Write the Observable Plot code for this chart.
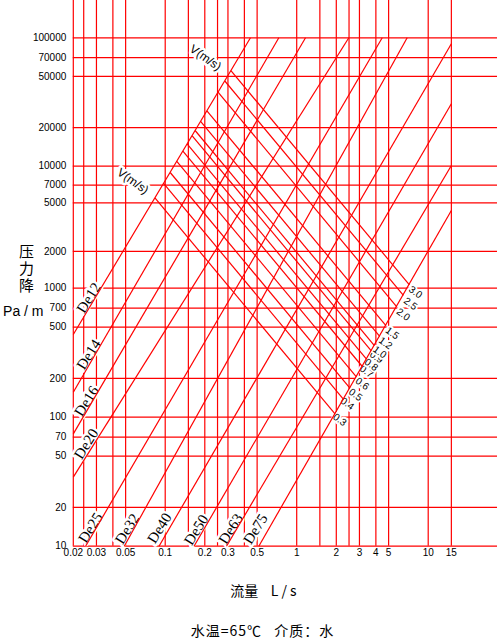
<!DOCTYPE html>
<html>
<head>
<meta charset="utf-8">
<script src="https://cdn.jsdelivr.net/npm/d3@7"></script>
<script src="https://cdn.jsdelivr.net/npm/@observablehq/plot@0.6"></script>
<style>
  html, body { margin: 0; padding: 0; background: #fff; }
  #chart svg { display: block; }
  #caption { font-family: "Noto Sans CJK SC", sans-serif; font-size: 14px; letter-spacing: 1px;
             text-align: center; padding-left: 25px; margin-top: 17px; line-height: 16px; height: 16px; color: #000; }
</style>
</head>
<body>
<div id="chart"></div>
<div id="caption">水温=65℃&nbsp;&nbsp;&nbsp;介质：水</div>
<script>
// Grid values (flow L/s on x, pressure drop Pa/m on y)
const xGrid = [0.02, 0.024, 0.03, 0.04, 0.05, 0.1, 0.15, 0.2, 0.25, 0.3, 0.4, 0.5, 1, 1.5, 2, 2.5, 3, 4, 5, 10, 15];
const yGrid = [10, 20, 50, 70, 100, 200, 500, 700, 1000, 2000, 5000, 7000, 10000, 20000, 50000, 70000, 100000];
const xTicks = [0.02, 0.03, 0.05, 0.1, 0.2, 0.3, 0.5, 1, 2, 3, 4, 5, 10, 15];
const yTicks = [10, 20, 50, 70, 100, 200, 500, 700, 1000, 2000, 5000, 7000, 10000, 20000, 50000, 70000, 100000];
const xMin = 0.02, xMax = 33.65, yMin = 10, yMax = 195200;

// Pipe lines (De)
const pipes  = ["De12", "De14", "De16", "De20", "De25", "De32", "De40", "De50", "De63", "De75"];
const pipeX1 = [0.02, 0.02, 0.02, 0.02, 0.0248, 0.0488, 0.0897, 0.1656, 0.2925, 0.515];
const pipeY1 = [437.7, 156.2, 74.3, 34.3, 10, 10, 10, 10, 10, 10];
const pipeX2 = [0.445, 0.731, 1.167, 2.49, 4.47, 6.92, 15, 15, 15, 15];
const pipeY2 = [100000, 100000, 100000, 100000, 100000, 100000, 89800, 30620, 10130, 4335];
const pipeLabelX = [0.0262, 0.0262, 0.0252, 0.0251, 0.0270, 0.0514, 0.0905, 0.172, 0.3155, 0.486];
const pipeLabelY = [842.6, 306.2, 133, 62.2, 13.89, 13.64, 13.79, 13.40, 13.64, 13.59];

// Velocity lines V (m/s)
const velocities = ["0.3", "0.4", "0.5", "0.6", "0.7", "0.8", "0.9", "1.0", "1.2", "1.5", "2.0", "2.5", "3.0"];
const velX1 = [0.0835, 0.0972, 0.1091, 0.1225, 0.1363, 0.1467, 0.1599, 0.1688, 0.1858, 0.2075, 0.2521, 0.2839, 0.3160];
const velY1 = [5499, 7228, 8879, 10920, 13090, 14920, 17280, 18970, 22340, 27010, 37700, 46090, 55530];
const velX2 = [1.956, 2.270, 2.539, 2.844, 3.154, 3.395, 3.692, 3.898, 4.278, 4.769, 5.770, 6.478, 7.194];
const velY2 = [105.9, 137.6, 168.1, 205.7, 247.2, 281.6, 326.6, 358.4, 423.8, 513.1, 717.5, 881.0, 1066];
const velLabelX = [2.127, 2.421, 2.800, 3.148, 3.395, 3.686, 4.045, 4.285, 4.735, 5.324, 6.455, 7.336, 8.005];
const velLabelY = [95.5, 127, 149.2, 181.5, 226.1, 254.8, 291.8, 319.1, 374.6, 448, 625.4, 757, 931];
const vTitle = ["V(m/s)", "V(m/s)"];
const vTitleX = [0.0567, 0.2025];
const vTitleY = [7534, 69850];

const pipeTable = pipes.map((name, i) => ({name, x1: pipeX1[i], y1: pipeY1[i], x2: pipeX2[i], y2: pipeY2[i], lx: pipeLabelX[i], ly: pipeLabelY[i]}));
const velTable = velocities.map((name, i) => ({name, x1: velX1[i], y1: velY1[i], x2: velX2[i], y2: velY2[i], lx: velLabelX[i], ly: velLabelY[i]}));
const vTitleTable = vTitle.map((t, i) => ({t, x: vTitleX[i], y: vTitleY[i]}));

const RED = "#ff0000";
const H = 605, bottomPx = 545.7;
const cjk = "Noto Sans CJK SC, sans-serif";

const chart = Plot.plot({
  width: 500,
  height: H,
  marginLeft: 72.8,
  marginRight: 3,
  marginTop: 0,
  marginBottom: H - bottomPx,
  x: {type: "log", domain: [xMin, xMax], axis: null},
  // piecewise log scale: the drawing's decades are not all the same height
  y: {type: "log", domain: [10, 100, 1000, 10000, 100000, yMax], range: [545.7, 416.7, 287.7, 165.7, 37.3, 0], axis: null},
  style: {fontFamily: "Liberation Sans, Arial, sans-serif", fontSize: "10px", background: "#fff", color: "#000", overflow: "visible"},
  marks: [
    Plot.ruleX(xGrid, {x: d => d, y1: yMin, y2: yMax, stroke: RED, strokeWidth: 1.2}),
    Plot.ruleY(yGrid, {y: d => d, x1: xMin, x2: xMax, stroke: RED, strokeWidth: 1.2}),
    // labels with white halos that knock out the grid
    Plot.text(pipeTable, {x: "lx", y: "ly", text: "name", rotate: -58, fontSize: 15,
      fontFamily: "Liberation Serif, serif", fill: "#000", stroke: "#fff", strokeWidth: 5}),
    Plot.text(velTable, {x: "lx", y: "ly", text: "name", rotate: 36, fontSize: 10,
      fill: "#000", stroke: "#fff", strokeWidth: 4}),
    Plot.text(vTitleTable, {x: "x", y: "y", text: "t", rotate: 35, fontSize: 12,
      fill: "#000", stroke: "#fff", strokeWidth: 5}),
    // pipe and velocity lines
    Plot.link(pipeTable, {x1: "x1", y1: "y1", x2: "x2", y2: "y2", stroke: RED, strokeWidth: 1.2}),
    Plot.link(velTable, {x1: "x1", y1: "y1", x2: "x2", y2: "y2", stroke: RED, strokeWidth: 1.2}),
    // tick labels
    Plot.text(xTicks, {x: d => d, y: yMin, text: d => String(d), dy: 6.5, lineAnchor: "middle", fontSize: 10, fill: "#000"}),
    Plot.text(yTicks, {x: xMin, y: d => d, text: d => String(d), dx: -7, textAnchor: "end", lineAnchor: "middle", fontSize: 10, fill: "#000"}),
    // y-axis title: vertical column of characters (writing mode set below)
    Plot.text(["压力降"], {frameAnchor: "top-left", dx: -46.8, dy: 258, lineAnchor: "top", fontSize: 15,
      fontFamily: cjk, textAnchor: "middle", fill: "#000", className: "ytitle"}),
    Plot.text(["Pa / m"], {frameAnchor: "top-left", dx: -50, dy: 311, lineAnchor: "middle",
      fontSize: 14, textAnchor: "middle", fill: "#000"}),
    // x-axis title
    Plot.text(["流量    L / s"], {frameAnchor: "bottom", dx: -22, dy: 45.3, lineAnchor: "middle",
      fontSize: 14, fontFamily: cjk, textAnchor: "middle", fill: "#000"})
  ]
});
// stack the y-axis title characters vertically, as in the drawing
d3.select(chart).selectAll("g.ytitle text")
  .attr("writing-mode", "tb")
  .attr("dy", null)
  .style("letter-spacing", "2px");
document.getElementById("chart").appendChild(chart);
</script>
</body>
</html>
